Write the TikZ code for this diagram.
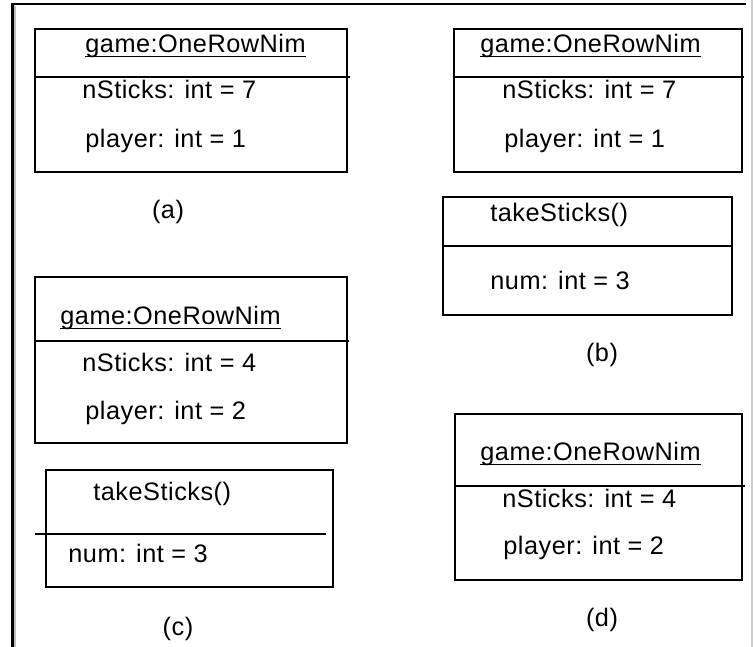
\documentclass[tikz,border=0pt]{standalone}
\usepackage{fontspec}
\setmainfont[LetterSpace=2]{Liberation Sans}
\newcommand{\objname}[1]{\setbox0\hbox{#1}\rlap{\rule[-2.4pt]{\wd0}{0.8pt}}\box0}
\tikzset{
  box/.style={line width=1.1pt},
  txt/.style={anchor=base west, inner sep=0pt},
  sublabel/.style={inner sep=0pt}
}
\begin{document}
\begin{tikzpicture}[font=\fontsize{14.4}{17}\selectfont]
\useasboundingbox (0,0) rectangle (15.06,12.94);
% frame
\draw[gray!40, line width=0.8pt] (15.04,12.94) -- (15.04,0);
\draw[gray!50, line width=0.8pt] (0.30,12.82) -- (0.30,0);
\draw[line width=1.3pt] (0.25,0) -- (0.25,12.86) -- (14.92,12.86);
% (a)
\draw[box] (0.70,12.36) rectangle (6.94,9.50);
\draw[box] (0.70,11.40) -- (7.00,11.40);
\node[txt] (ga) at (1.70,11.88) {\objname{game:OneRowNim}};
\node[txt] (na) at (1.64,10.96) {nSticks: int = 7};
\node[txt] (pa) at (1.70,9.98) {player: int = 1};
\node[sublabel] (la) at (3.36,8.70) {(a)};
% (b)
\draw[box] (9.08,12.36) rectangle (14.84,9.50);
\draw[box] (9.08,11.40) -- (14.88,11.40);
\node[txt] (gb) at (9.60,11.88) {\objname{game:OneRowNim}};
\node[txt] (nb) at (10.04,10.96) {nSticks: int = 7};
\node[txt] (pb) at (10.08,9.98) {player: int = 1};
\draw[box] (8.86,9.00) rectangle (14.64,6.64);
\draw[box] (8.86,8.02) -- (14.66,8.02);
\node[txt] (tb) at (9.80,8.50) {takeSticks()};
\node[txt] (mb) at (9.80,7.14) {num: int = 3};
\node[sublabel] (lb) at (12.04,5.84) {(b)};
% (c)
\draw[box] (0.70,7.40) rectangle (6.94,4.08);
\draw[box] (0.70,6.12) -- (6.98,6.12);
\node[txt] (gc) at (1.20,6.44) {\objname{game:OneRowNim}};
\node[txt] (nc) at (1.64,5.50) {nSticks: int = 4};
\node[txt] (pc) at (1.70,4.54) {player: int = 2};
\draw[box] (0.92,3.54) rectangle (6.66,1.20);
\draw[box] (0.70,2.26) -- (6.52,2.26);
\node[txt] (tc) at (1.86,2.92) {takeSticks()};
\node[txt] (mc) at (1.36,1.68) {num: int = 3};
\node[sublabel] (lc) at (3.56,0.36) {(c)};
% (d)
\draw[box] (9.10,4.66) rectangle (14.84,1.34);
\draw[box] (9.10,3.22) -- (14.90,3.22);
\node[txt] (gd) at (9.60,3.72) {\objname{game:OneRowNim}};
\node[txt] (nd) at (10.04,2.78) {nSticks: int = 4};
\node[txt] (pd) at (10.06,1.84) {player: int = 2};
\node[sublabel] (ld) at (12.04,0.54) {(d)};
\end{tikzpicture}
\end{document}
